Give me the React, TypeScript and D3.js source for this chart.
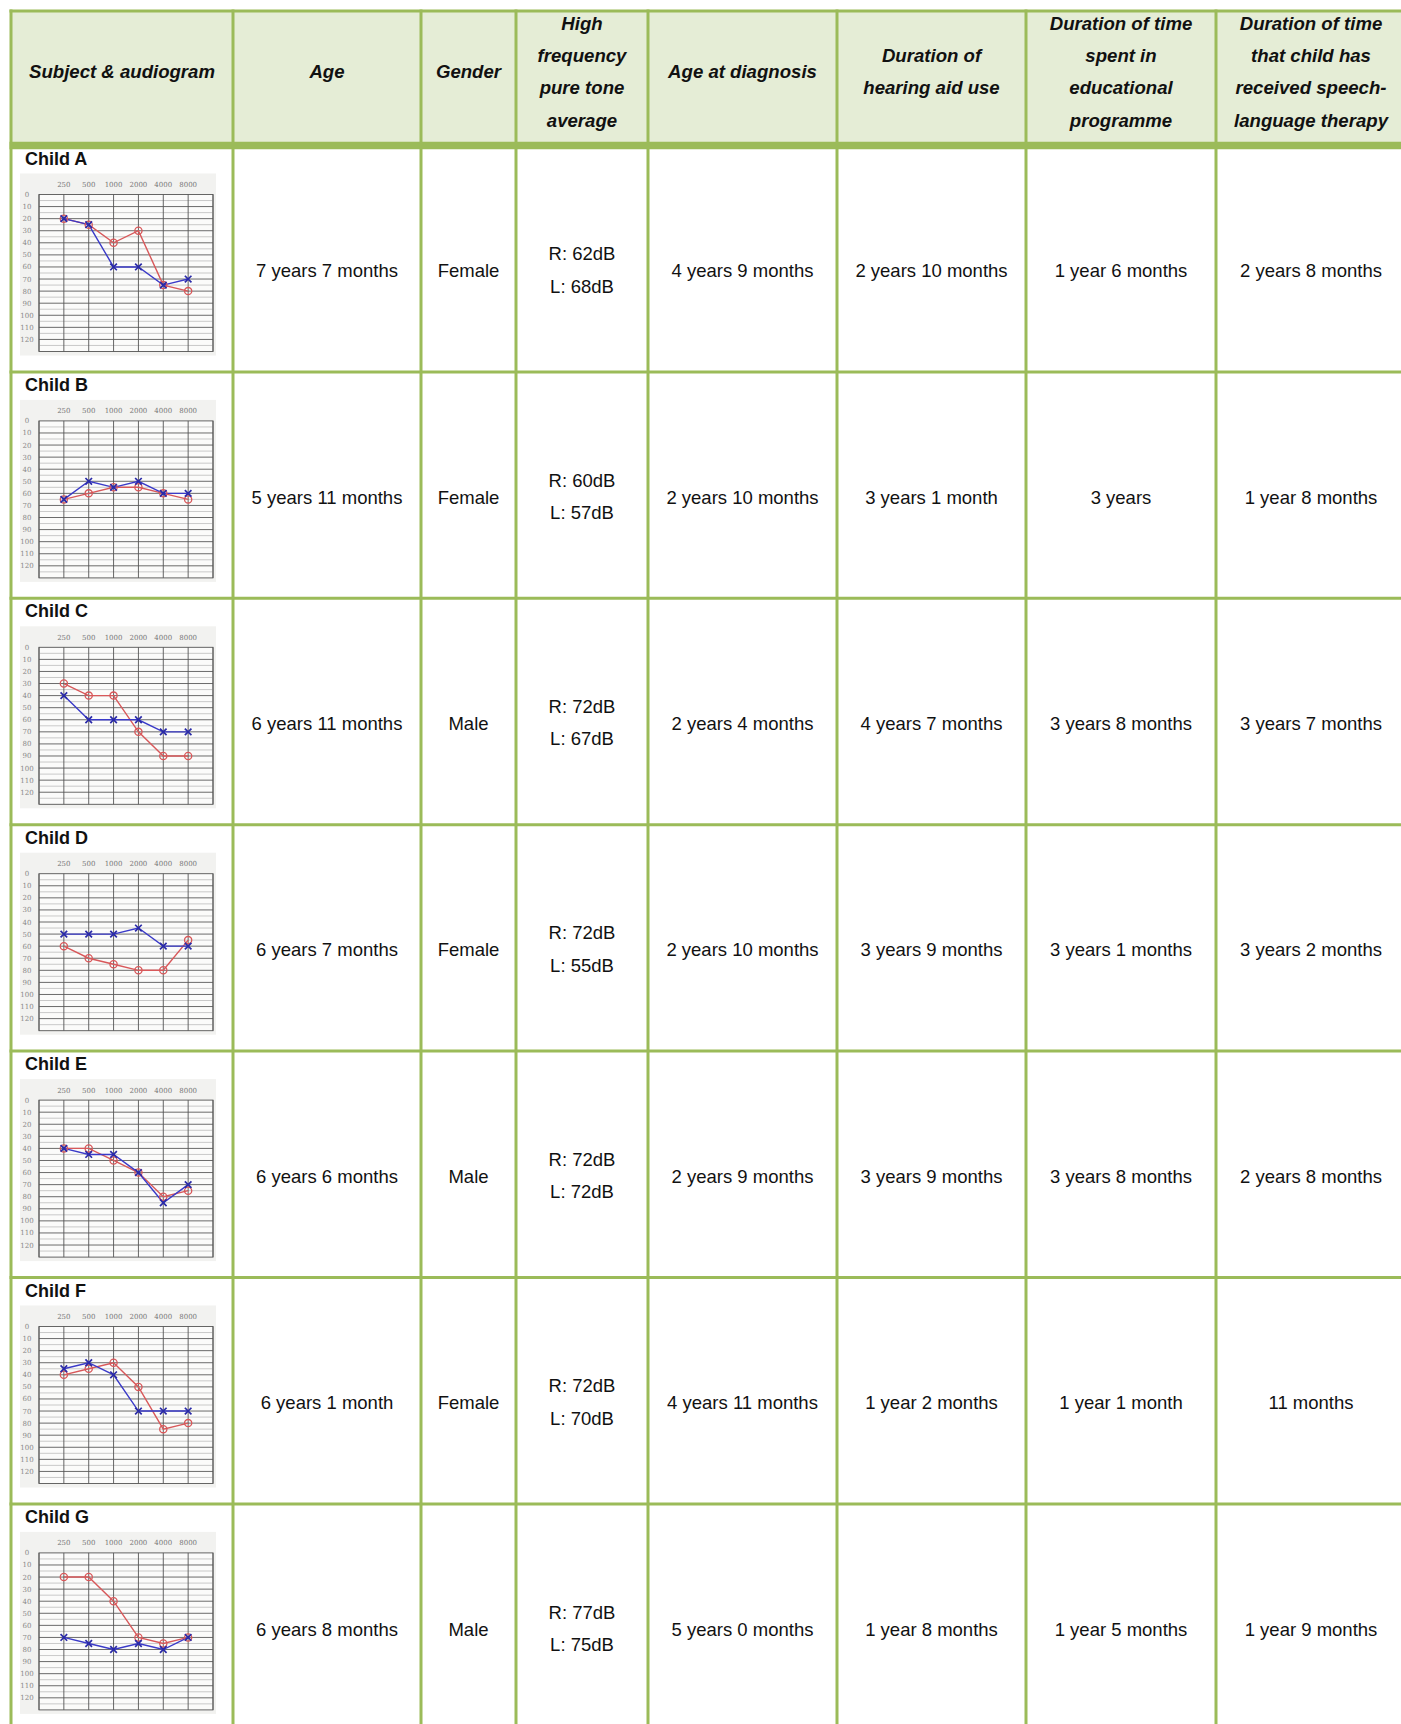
import React from 'react';
import * as d3 from 'd3';

// ---------- data ----------
const headers: string[][] = [
  ['Subject & audiogram'],
  ['Age'],
  ['Gender'],
  ['High', 'frequency', 'pure tone', 'average'],
  ['Age at diagnosis'],
  ['Duration of', 'hearing aid use'],
  ['Duration of time', 'spent in', 'educational', 'programme'],
  ['Duration of time', 'that child has', 'received speech-', 'language therapy'],
];

const subjects = ['Child A', 'Child B', 'Child C', 'Child D', 'Child E', 'Child F', 'Child G'];
const ages = ['7 years 7 months', '5 years 11 months', '6 years 11 months', '6 years 7 months', '6 years 6 months', '6 years 1 month', '6 years 8 months'];
const genders = ['Female', 'Female', 'Male', 'Female', 'Male', 'Female', 'Male'];
const ptaRight = [62, 60, 72, 72, 72, 72, 77];
const ptaLeft = [68, 57, 67, 55, 72, 70, 75];
const ageAtDiagnosis = ['4 years 9 months', '2 years 10 months', '2 years 4 months', '2 years 10 months', '2 years 9 months', '4 years 11 months', '5 years 0 months'];
const hearingAidUse = ['2 years 10 months', '3 years 1 month', '4 years 7 months', '3 years 9 months', '3 years 9 months', '1 year 2 months', '1 year 8 months'];
const educationDuration = ['1 year 6 months', '3 years', '3 years 8 months', '3 years 1 months', '3 years 8 months', '1 year 1 month', '1 year 5 months'];
const therapyDuration = ['2 years 8 months', '1 year 8 months', '3 years 7 months', '3 years 2 months', '2 years 8 months', '11 months', '1 year 9 months'];

const frequencies = [250, 500, 1000, 2000, 4000, 8000];
const dbTicks = [0, 10, 20, 30, 40, 50, 60, 70, 80, 90, 100, 110, 120];
const dbMax = 130;

// right ear (red O) and left ear (blue X), dB HL at 250..8000 Hz
const rightEar = [
  [20, 25, 40, 30, 75, 80],
  [65, 60, 55, 55, 60, 65],
  [30, 40, 40, 70, 90, 90],
  [60, 70, 75, 80, 80, 55],
  [40, 40, 50, 60, 80, 75],
  [40, 35, 30, 50, 85, 80],
  [20, 20, 40, 70, 75, 70],
];
const leftEar = [
  [20, 25, 60, 60, 75, 70],
  [65, 50, 55, 50, 60, 60],
  [40, 60, 60, 60, 70, 70],
  [50, 50, 50, 45, 60, 60],
  [40, 45, 45, 60, 85, 70],
  [35, 30, 40, 70, 70, 70],
  [70, 75, 80, 75, 80, 70],
];

// ---------- layout / style ----------
const W = 1401;
const H = 1724;
const colEdges = [11, 233, 421, 516, 648, 837, 1026, 1216, 1406];
const tableTop = 11;
const headerLine = 145.5;
const rowPitch = 226.4;
const GREEN = '#9bbb59';
const HEADER_BG = '#e5edd6';
const FONT = '"Liberation Sans", Arial, sans-serif';
const RED = '#d8585a';
const BLUE = '#3a3ac8';

const rowY = d3.scaleLinear().domain([0, subjects.length]).range([headerLine, headerLine + subjects.length * rowPitch]);

function Audiogram({ idx }: { idx: number }) {
  const T = rowY(idx);
  const x = d3.scalePoint<number>().domain(frequencies).range([39, 213]).padding(1);
  const y = d3.scaleLinear().domain([0, dbMax]).range([T + 49, T + 49 + 157]);
  const minor = d3.range(5, dbMax, 5);
  const line = d3.line<number>().x((_, i) => x(frequencies[i])!).y((d) => y(d));
  const r = rightEar[idx];
  const l = leftEar[idx];
  const vx = [39, ...frequencies.map((f) => x(f)!), 213];
  return (
    <g>
      <rect x={20} y={T + 28} width={196} height={182} fill="#f2f2f0" />
      <rect x={39} y={y(0)} width={174} height={y(dbMax) - y(0)} fill="#fbfbfa" stroke="#555" strokeWidth={0.9} />
      {minor.map((d) => (
        <line key={'m' + d} x1={39} x2={213} y1={y(d)} y2={y(d)} stroke={d % 10 === 0 ? '#5a5a5a' : '#a8a8a8'} strokeWidth={d % 10 === 0 ? 0.9 : 0.6} />
      ))}
      {vx.map((vv, i) => (
        <line key={'v' + i} x1={vv} x2={vv} y1={y(0)} y2={y(dbMax)} stroke="#555" strokeWidth={0.9} />
      ))}
      {frequencies.map((f) => (
        <text key={'f' + f} x={x(f)} y={y(0) - 7.5} fontSize={7} fill="#777" textAnchor="middle" fontFamily="'DejaVu Serif', serif">
          {f}
        </text>
      ))}
      {dbTicks.map((d) => (
        <text key={'d' + d} x={27} y={y(d) + 2.5} fontSize={7} fill="#888" textAnchor="middle" fontFamily="'DejaVu Serif', serif">
          {d}
        </text>
      ))}
      <path d={line(r) || ''} fill="none" stroke={RED} strokeWidth={1.4} />
      <path d={line(l) || ''} fill="none" stroke={BLUE} strokeWidth={1.4} />
      {r.map((d, i) => (
        <circle key={'o' + i} cx={x(frequencies[i])} cy={y(d)} r={3.6} fill="none" stroke={RED} strokeWidth={1.3} />
      ))}
      {l.map((d, i) => {
        const cx = x(frequencies[i])!;
        const cy = y(d);
        const s = 3.3;
        return (
          <path key={'x' + i} d={`M${cx - s},${cy - s}L${cx + s},${cy + s}M${cx - s},${cy + s}L${cx + s},${cy - s}`} stroke="#2a2aa8" strokeWidth={1.7} fill="none" />
        );
      })}
    </g>
  );
}

export default function App() {
  const colCenter = (i: number) => (colEdges[i] + colEdges[i + 1]) / 2;
  const lineH = 32.4;
  const headerMid = 71.5;
  const columns = [ages, genders, null, ageAtDiagnosis, hearingAidUse, educationDuration, therapyDuration];
  return (
    <svg width={W} height={H} style={{ position: 'absolute', left: 0, top: 0, background: '#fff' }} fontFamily={FONT}>
      <rect x={0} y={0} width={W} height={H} fill="#fff" />
      <rect x={colEdges[0]} y={tableTop} width={colEdges[8] - colEdges[0]} height={headerLine - tableTop} fill={HEADER_BG} />
      {headers.map((lines, ci) => (
        <text key={'h' + ci} textAnchor="middle" fontWeight="bold" fontStyle="italic" fontSize={18.6} fill="#111">
          {lines.map((t, li) => (
            <tspan key={li} x={colCenter(ci)} y={headerMid + (li - (lines.length - 1) / 2) * lineH + 6.7}>
              {t}
            </tspan>
          ))}
        </text>
      ))}
      {subjects.map((s, ri) => {
        const top = rowY(ri);
        const mid = (rowY(ri) + rowY(ri + 1)) / 2;
        const base = mid + 18.5;
        return (
          <g key={'r' + ri}>
            <text x={25} y={top + 19} fontWeight="bold" fontSize={18} fill="#111">
              {s}
            </text>
            <Audiogram idx={ri} />
            {columns.map((col, ci) => {
              const c = ci + 1;
              if (col === null) {
                return (
                  <text key={'c' + c} textAnchor="middle" fontSize={18.5} fill="#111">
                    <tspan x={colCenter(c)} y={base - 17}>{`R: ${ptaRight[ri]}dB`}</tspan>
                    <tspan x={colCenter(c)} y={base + 15.4}>{`L: ${ptaLeft[ri]}dB`}</tspan>
                  </text>
                );
              }
              return (
                <text key={'c' + c} x={colCenter(c)} y={base} textAnchor="middle" fontSize={18.5} fill="#111">
                  {col[ri]}
                </text>
              );
            })}
          </g>
        );
      })}
      {colEdges.map((cx, i) => (
        <line key={'vl' + i} x1={cx} x2={cx} y1={tableTop - 1.5} y2={H} stroke={GREEN} strokeWidth={3} />
      ))}
      <line x1={colEdges[0] - 1.5} x2={W} y1={tableTop} y2={tableTop} stroke={GREEN} strokeWidth={3} />
      <line x1={colEdges[0] - 1.5} x2={W} y1={headerLine} y2={headerLine} stroke={GREEN} strokeWidth={7.3} />
      {d3.range(1, subjects.length + 1).map((i) => (
        <line key={'hl' + i} x1={colEdges[0] - 1.5} x2={W} y1={rowY(i)} y2={rowY(i)} stroke={GREEN} strokeWidth={3} />
      ))}
    </svg>
  );
}
